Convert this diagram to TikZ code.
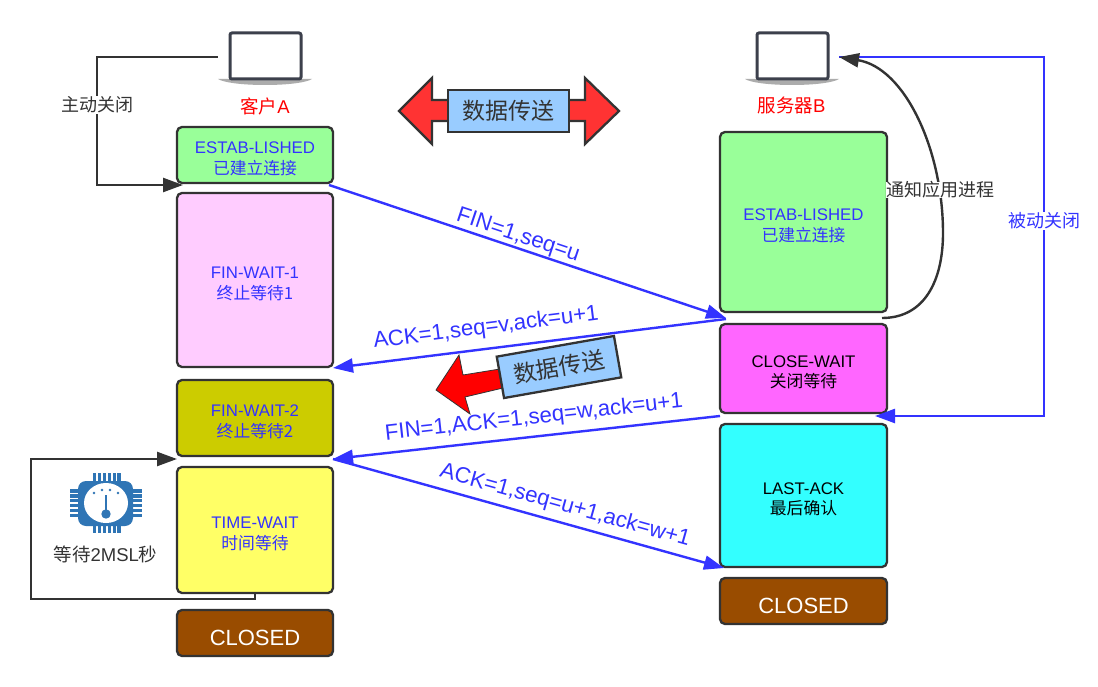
\documentclass[tikz,border=0pt]{standalone}
\usepackage{fontspec}
\setmainfont{Liberation Sans}
\newfontfamily\cjk{Noto Sans CJK SC}
\newcommand\zh[1]{{\cjk #1}}
\usetikzlibrary{arrows.meta}
\definecolor{ink}{HTML}{333333}
\definecolor{bluet}{HTML}{3333FF}
\definecolor{chipc}{HTML}{2F75B5}
\definecolor{lapc}{HTML}{3C404C}
\definecolor{dataf}{HTML}{99CCFF}
\definecolor{cgreen}{HTML}{99FF99}
\definecolor{cpink}{HTML}{FFCCFF}
\definecolor{colive}{HTML}{CCCC00}
\definecolor{cyellow}{HTML}{FFFF66}
\definecolor{cbrown}{HTML}{994C00}
\definecolor{cmag}{HTML}{FF66FF}
\definecolor{ccyan}{HTML}{33FFFF}
\definecolor{cred}{HTML}{FF3333}
\tikzset{
  statebox/.style={draw=ink,line width=2.3pt,rounded corners=5pt,inner sep=0pt,align=center,font=\fontsize{16.8}{20.8}\selectfont},
  closedbox/.style={draw=ink,line width=2.3pt,rounded corners=5pt,inner sep=0pt,fill=cbrown,text=white,font=\fontsize{22}{26}\selectfont},
  blacktip/.style={-{Triangle[length=20pt,width=14pt]}},
  bluetip/.style={-{Triangle[length=20pt,width=14pt]}},
  blackline/.style={draw=ink,line width=2.4pt},
  blueline/.style={draw=bluet,line width=2.4pt},
  edgelabel/.style={text=bluet,font=\fontsize{22.2}{26}\selectfont,inner sep=0pt},
  sidelabel/.style={fill=white,inner sep=1pt,font=\fontsize{18}{22}\selectfont},
  titlelabel/.style={text=red,inner sep=0pt,font=\fontsize{18.5}{22}\selectfont},
  databox/.style={draw=ink,line width=2.3pt,fill=dataf,inner sep=0pt,font=\fontsize{23}{28}\selectfont,text=ink},
}
\newcommand\boxat[8]{% name, x1,y1,x2,y2, fill, textcolor, text
  \node[statebox,fill=#6,text=#7,minimum width=#4pt-#2pt,minimum height=#5pt-#3pt] (#1) at ({(#2+#4)/2},{(#3+#5)/2}) {\rule{0pt}{19.5pt}#8};}
\newcommand\laptopshape[1]{%
  \begin{scope}[shift={(#1,0)}]
    \fill[gray!65] (-11,79) -- (83,79) .. controls (70,87) and (2,87) .. (-11,79) -- cycle;
    \draw[lapc,line width=3pt,rounded corners=2pt,fill=white] (1,33) rectangle (72,79);
  \end{scope}}
\begin{document}
\begin{tikzpicture}[x=1pt,y=-1pt]
\useasboundingbox (0,0) rectangle (1098,687);
\fill[white] (0,0) rectangle (1098,687);

% laptops
\laptopshape{229}
\laptopshape{756}
\node[inner sep=0pt,minimum width=94pt,minimum height=54pt] (lapA) at (265,57) {};
\node[inner sep=0pt,minimum width=94pt,minimum height=54pt] (lapB) at (792,57) {};
\node[titlelabel] (titleA) at (265,106) {\zh{客户}A};
\node[titlelabel] (titleB) at (791.5,105.5) {\zh{服务器}B};

% states
\boxat{estA}{177}{127}{333}{183}{cgreen}{bluet}{ESTAB-LISHED\\\zh{已建立连接}}
\boxat{finA}{177}{193}{333}{367}{cpink}{bluet}{FIN-WAIT-1\\\zh{终止等待1}}
\boxat{finB}{177}{380}{333}{456}{colive}{bluet}{FIN-WAIT-2\\\zh{终止等待2}}
\boxat{timeW}{177}{467}{333}{593}{cyellow}{bluet}{TIME-WAIT\\\zh{时间等待}}
\node[closedbox,minimum width=156pt,minimum height=46pt] (closedA) at (255,633) {\rule{0pt}{24.5pt}CLOSED};
\boxat{estB}{720}{132}{887}{312}{cgreen}{bluet}{ESTAB-LISHED\\\zh{已建立连接}}
\boxat{closeW}{720}{324}{887}{413}{cmag}{black}{CLOSE-WAIT\\\zh{关闭等待}}
\boxat{lastA}{720}{424}{887}{567}{ccyan}{black}{LAST-ACK\\\zh{最后确认}}
\node[closedbox,minimum width=167pt,minimum height=46pt] (closedB) at (803.5,601) {\rule{0pt}{24.5pt}CLOSED};

% double arrow
\draw[draw=ink,line width=2.3pt,fill=cred,line join=miter] (399,111) -- (432,78) -- (432,100) -- (585,100) -- (585,78) -- (619,111) -- (585,144) -- (585,121) -- (432,121) -- (432,144) -- cycle;
\node[databox,minimum width=121pt,minimum height=42pt] (dataTop) at (508.5,111) {\zh{数据传送}};

% rotated data arrow
\fill[red,draw=ink,line width=.8pt] (436,390) -- (459,355) -- (463,375) -- (500,369) -- (503,388) -- (465,397) -- (470,414) -- cycle;
\node[databox,rotate=10,minimum width=119pt,minimum height=42pt] (dataMid) at (559,367) {\zh{数据传送}};

% black connectors
\coordinate (a1) at (97,57);
\coordinate (a2) at (97,185);
\coordinate (a3) at (183,185);
\draw[blackline,blacktip] (lapA.west) -- (a1) -- (a2) -- (a3);
\node[sidelabel,text=ink] (mainclose) at (97,105) {\zh{主动关闭}};

\coordinate (t1) at (255,599);
\coordinate (t2) at (31,599);
\coordinate (t3) at (31,459);
\coordinate (t4) at (177,459);
\draw[blackline,blacktip] (timeW.south) -- (t1) -- (t2) -- (t3) -- (t4);

% passive close
\coordinate (p0) at (839,57);
\coordinate (p1) at (1044,57);
\coordinate (p2) at (1044,416);
\coordinate (p3) at (875,416);
\draw[blueline,bluetip] (p0) -- (p1) -- (p2) -- (p3);
\node[sidelabel,text=bluet] (passive) at (1044,221) {\zh{被动关闭}};

% notify
\coordinate (n0) at (882,318);
\coordinate (n1) at (943,233);
\coordinate (n2) at (839,57);
\draw[blackline,blacktip] (n0) .. controls (925,318) and (943,280) .. (n1) .. controls (943,150) and (905,68) .. (n2);
\node[sidelabel,text=ink,fill=white,inner sep=0pt] (notify) at (940,190) {\zh{通知应用进程}};

% blue messages
\coordinate (m1s) at (329,185);
\coordinate (m1e) at (726,318);
\coordinate (m2s) at (726,319);
\coordinate (m2e) at (333,368);
\coordinate (m3s) at (720,416);
\coordinate (m3e) at (333,459);
\coordinate (m4s) at (333,459);
\coordinate (m4e) at (724,568);
\draw[blueline,bluetip] (m1s) -- (m1e);
\draw[blueline,bluetip] (m2s) -- (m2e);
\draw[blueline,bluetip] (m3s) -- (m3e);
\draw[blueline,bluetip] (m4s) -- (m4e);
\node[edgelabel,rotate=-18.5] (l1) at (518,236) {FIN=1,seq=u};
\node[edgelabel,rotate=7.2] (l2) at (486,328) {ACK=1,seq=v,ack=u+1};
\node[edgelabel,rotate=6.3] (l3) at (534,418) {FIN=1,ACK=1,seq=w,ack=u+1};
\node[edgelabel,rotate=-15.6] (l4) at (565,506) {ACK=1,seq=u+1,ack=w+1};

% chip icon
\foreach \i in {0,...,5} {
  \draw[chipc,line width=3.2pt] ({94.5+\i*4.9},473) -- ({94.5+\i*4.9},533);
  \draw[chipc,line width=3.2pt] (70,{491+\i*4.9}) -- (142,{491+\i*4.9});
}
\fill[chipc,rounded corners=8pt] (78,481) rectangle (133,526);
\fill[white] (106,503) ellipse [x radius=22pt,y radius=20pt];
\foreach \dx/\dy in {94/493,102/490,110/490,118/493} \fill[chipc] (\dx,\dy) circle (1.3pt);
\draw[chipc,line width=2.6pt] (106,495) -- (106,513);
\fill[chipc] (106,514) circle (4.7pt);
\node[text=ink,inner sep=0pt,font=\fontsize{18.5}{22}\selectfont] (waitlbl) at (105.5,554) {\zh{等待}2MSL\zh{秒}};
\end{tikzpicture}
\end{document}
